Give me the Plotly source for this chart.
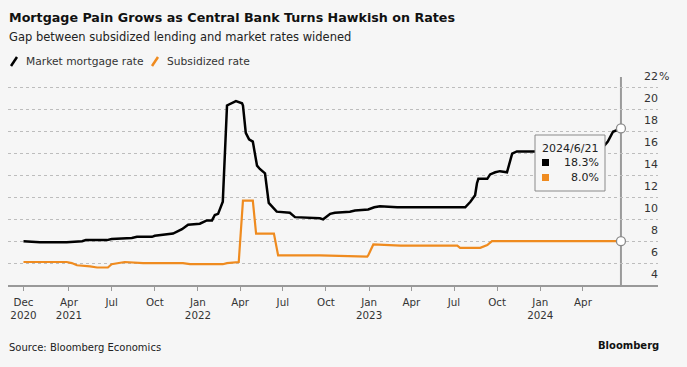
import plotly.graph_objects as go

# ---------------- data ----------------
market_dates = ["2020-12-25", "2021-01-29", "2021-03-27", "2021-04-29", "2021-05-07", "2021-06-21",
                "2021-07-01", "2021-08-13", "2021-08-24", "2021-09-25", "2021-10-01", "2021-11-09",
                "2021-11-28", "2021-12-11", "2022-01-05", "2022-01-20", "2022-01-31", "2022-02-06",
                "2022-02-13", "2022-02-23", "2022-03-04", "2022-03-15", "2022-03-23", "2022-04-05",
                "2022-04-07", "2022-04-13", "2022-04-20", "2022-04-28", "2022-05-07", "2022-05-13",
                "2022-05-24", "2022-06-01", "2022-06-10", "2022-06-18", "2022-07-16", "2022-07-27",
                "2022-09-18", "2022-09-25", "2022-10-10", "2022-10-20", "2022-11-21", "2022-12-02",
                "2022-12-30", "2023-01-12", "2023-01-24", "2023-03-02", "2023-05-18", "2023-07-25",
                "2023-08-05", "2023-08-11", "2023-08-15", "2023-08-19", "2023-08-22", "2023-09-10",
                "2023-09-16", "2023-09-27", "2023-10-07", "2023-10-22", "2023-11-02", "2023-11-12",
                "2023-12-20", "2024-03-01", "2024-05-10", "2024-05-18", "2024-05-24", "2024-06-04",
                "2024-06-21"]
market_rate = [8.0, 7.9, 7.9, 8.0, 8.1, 8.1,
               8.2, 8.3, 8.4, 8.4, 8.5, 8.7,
               9.1, 9.5, 9.6, 9.9, 9.9, 10.4,
               10.5, 11.6, 20.4, 20.6, 20.8, 20.6,
               20.4, 17.9, 17.3, 17.1, 14.9, 14.6,
               14.2, 11.5, 11.1, 10.7, 10.6, 10.2,
               10.1, 10.0, 10.5, 10.6, 10.7, 10.8,
               10.9, 11.1, 11.2, 11.1, 11.1, 11.1,
               11.6, 12.0, 12.2, 13.3, 13.7, 13.7,
               14.1, 14.3, 14.4, 14.3, 16.0, 16.2,
               16.2, 16.3, 16.5, 16.8, 17.1, 18.0,
               18.3]

subsidized_dates = ["2020-12-25", "2021-03-27", "2021-04-07", "2021-04-18", "2021-05-16", "2021-05-31",
                    "2021-06-23", "2021-07-01", "2021-07-29", "2021-09-06", "2021-11-30", "2021-12-15",
                    "2022-02-23", "2022-03-04", "2022-03-29", "2022-04-07", "2022-04-28", "2022-05-05",
                    "2022-06-12", "2022-06-21", "2022-09-18", "2022-12-28", "2022-12-30", "2023-01-10",
                    "2023-03-09", "2023-07-08", "2023-07-14", "2023-08-26", "2023-09-10", "2023-09-20",
                    "2024-06-21"]
subsidized_rate = [6.1, 6.1, 6.0, 5.8, 5.7, 5.6,
                   5.6, 5.9, 6.1, 6.0, 6.0, 5.9,
                   5.9, 6.0, 6.1, 11.7, 11.7, 8.7,
                   8.7, 6.7, 6.7, 6.6, 6.7, 7.7,
                   7.6, 7.6, 7.4, 7.4, 7.65, 8.0,
                   8.0]

x_tick_vals = ["2020-12-25", "2021-04-01", "2021-07-01", "2021-10-01", "2022-01-01", "2022-04-01",
               "2022-07-01", "2022-10-01", "2023-01-01", "2023-04-01", "2023-07-01", "2023-10-01",
               "2024-01-01", "2024-04-01"]
x_tick_text = ["Dec<br>2020", "Apr<br>2021", "Jul", "Oct", "Jan<br>2022", "Apr", "Jul", "Oct",
               "Jan<br>2023", "Apr", "Jul", "Oct", "Jan<br>2024", "Apr"]
y_tick_vals = [4, 6, 8, 10, 12, 14, 16, 18, 20, 22]
y_tick_text = ["4", "6", "8", "10", "12", "14", "16", "18", "20", "22"]

series_names = ["Market mortgage rate", "Subsidized rate"]
tooltip_date = "2024/6/21"

# ---------------- style / layout ----------------
W, H = 687, 367
L, R, T, B = 8, 29, 77, 82
PW, PH = W - L - R, H - T - B
BG = "#f6f6f6"
BLACK = "#000000"
ORANGE = "#ef8b1f"
FONT = "Tahoma, DejaVu Sans, sans-serif"
TXT = "#333333"


def px(x):
    return (x - L) / PW


def py(y):
    return (H - B - y) / PH


fig = go.Figure()
fig.add_trace(go.Scatter(x=market_dates, y=market_rate, mode="lines",
                         line=dict(color=BLACK, width=2.5), name=series_names[0],
                         showlegend=False, hoverinfo="skip"))
fig.add_trace(go.Scatter(x=subsidized_dates, y=subsidized_rate, mode="lines",
                         line=dict(color=ORANGE, width=2.2), name=series_names[1],
                         showlegend=False, hoverinfo="skip"))

# vertical marker line at the last date
fig.add_shape(type="line", xref="x", yref="paper", x0=market_dates[-1], x1=market_dates[-1],
              y0=0, y1=1, line=dict(color="#9a9a9a", width=2), layer="below")
# end markers
fig.add_trace(go.Scatter(x=[market_dates[-1], subsidized_dates[-1]],
                         y=[market_rate[-1], subsidized_rate[-1]], mode="markers",
                         marker=dict(size=9, color="white", line=dict(color="#8a8a8a", width=1.3)),
                         showlegend=False, hoverinfo="skip"))

annotations = []
# title / subtitle
annotations.append(dict(text="<b>Mortgage Pain Grows as Central Bank Turns Hawkish on Rates</b>",
                        x=px(7), y=py(18), xref="paper", yref="paper", xanchor="left", yanchor="middle",
                        showarrow=False, font=dict(family=FONT, size=12.7, color="#111")))
annotations.append(dict(text="Gap between subsidized lending and market rates widened",
                        x=px(7), y=py(37), xref="paper", yref="paper", xanchor="left", yanchor="middle",
                        showarrow=False, font=dict(family=FONT, size=11.5, color="#222")))
# legend
annotations.append(dict(text=series_names[0], x=px(24), y=py(61), xref="paper", yref="paper",
                        xanchor="left", yanchor="middle", showarrow=False,
                        font=dict(family=FONT, size=10.7, color=TXT)))
annotations.append(dict(text=series_names[1], x=px(165), y=py(61), xref="paper", yref="paper",
                        xanchor="left", yanchor="middle", showarrow=False,
                        font=dict(family=FONT, size=10.7, color=TXT)))
fig.add_shape(type="line", xref="paper", yref="paper", x0=px(11), y0=py(66), x1=px(17), y1=py(57),
              line=dict(color=BLACK, width=2.5))
fig.add_shape(type="line", xref="paper", yref="paper", x0=px(152), y0=py(66), x1=px(158), y1=py(57),
              line=dict(color=ORANGE, width=2.5))
# y tick labels (right side, sitting above their gridlines)
for v, t in zip(y_tick_vals, y_tick_text):
    annotations.append(dict(text=t, x=1, y=v, xref="paper", yref="y", xanchor="right", yanchor="middle",
                            xshift=2, yshift=11, showarrow=False,
                            font=dict(family=FONT, size=11, color=TXT)))
annotations.append(dict(text="%", x=1, y=y_tick_vals[-1], xref="paper", yref="y", xanchor="left",
                        yanchor="middle", xshift=-1, yshift=11, showarrow=False,
                        font=dict(family=FONT, size=11, color=TXT)))
# tooltip box
fig.add_shape(type="rect", xref="paper", yref="paper", x0=px(535), x1=px(605), y0=py(191), y1=py(135),
              fillcolor=BG, line=dict(color="#8a8a8a", width=1), layer="above")
fig.add_shape(type="rect", xref="paper", yref="paper", x0=px(542), x1=px(549), y0=py(166), y1=py(159),
              fillcolor=BLACK, line=dict(width=0), layer="above")
fig.add_shape(type="rect", xref="paper", yref="paper", x0=px(542), x1=px(549), y0=py(181), y1=py(174),
              fillcolor=ORANGE, line=dict(width=0), layer="above")
annotations.append(dict(text=tooltip_date, x=px(570), y=py(148), xref="paper", yref="paper",
                        xanchor="center", yanchor="middle", showarrow=False,
                        font=dict(family=FONT, size=11, color="#222")))
annotations.append(dict(text=f"{market_rate[-1]:.1f}%", x=px(601), y=py(162), xref="paper", yref="paper",
                        xanchor="right", yanchor="middle", showarrow=False,
                        font=dict(family=FONT, size=11, color="#222")))
annotations.append(dict(text=f"{subsidized_rate[-1]:.1f}%", x=px(601), y=py(177), xref="paper", yref="paper",
                        xanchor="right", yanchor="middle", showarrow=False,
                        font=dict(family=FONT, size=11, color="#222")))
# footer
annotations.append(dict(text="Source: Bloomberg Economics", x=px(7), y=py(347), xref="paper", yref="paper",
                        xanchor="left", yanchor="middle", showarrow=False,
                        font=dict(family=FONT, size=10, color="#222")))
annotations.append(dict(text="<b>Bloomberg</b>", x=px(661), y=py(345), xref="paper", yref="paper",
                        xanchor="right", yanchor="middle", showarrow=False,
                        font=dict(family=FONT, size=10, color="#111")))

fig.update_layout(
    width=W, height=H,
    margin=dict(l=L, r=R, t=T, b=B),
    paper_bgcolor=BG, plot_bgcolor=BG,
    annotations=annotations,
    showlegend=False,
    xaxis=dict(type="date", range=["2020-11-22", "2024-09-08"], tickvals=x_tick_vals, ticktext=x_tick_text,
               showgrid=False, zeroline=False, showline=True, linecolor="#999", linewidth=1.5,
               ticks="outside", ticklen=4, tickcolor="#999", tickwidth=1, automargin=False,
               ticklabelstandoff=3,
               tickfont=dict(family=FONT, size=10.3, color=TXT)),
    yaxis=dict(range=[4, 23], tickvals=y_tick_vals, side="right", showticklabels=False,
               showgrid=True, gridcolor="#bdbdbd", griddash="dot", automargin=False,
               gridwidth=1, zeroline=False, showline=False, ticks=""),
)

fig.write_html("out.html", config={"displayModeBar": False, "staticPlot": True},
               post_script="document.body.style.margin='0';document.body.style.padding='0';"
                           "document.body.style.background='" + BG + "';")
